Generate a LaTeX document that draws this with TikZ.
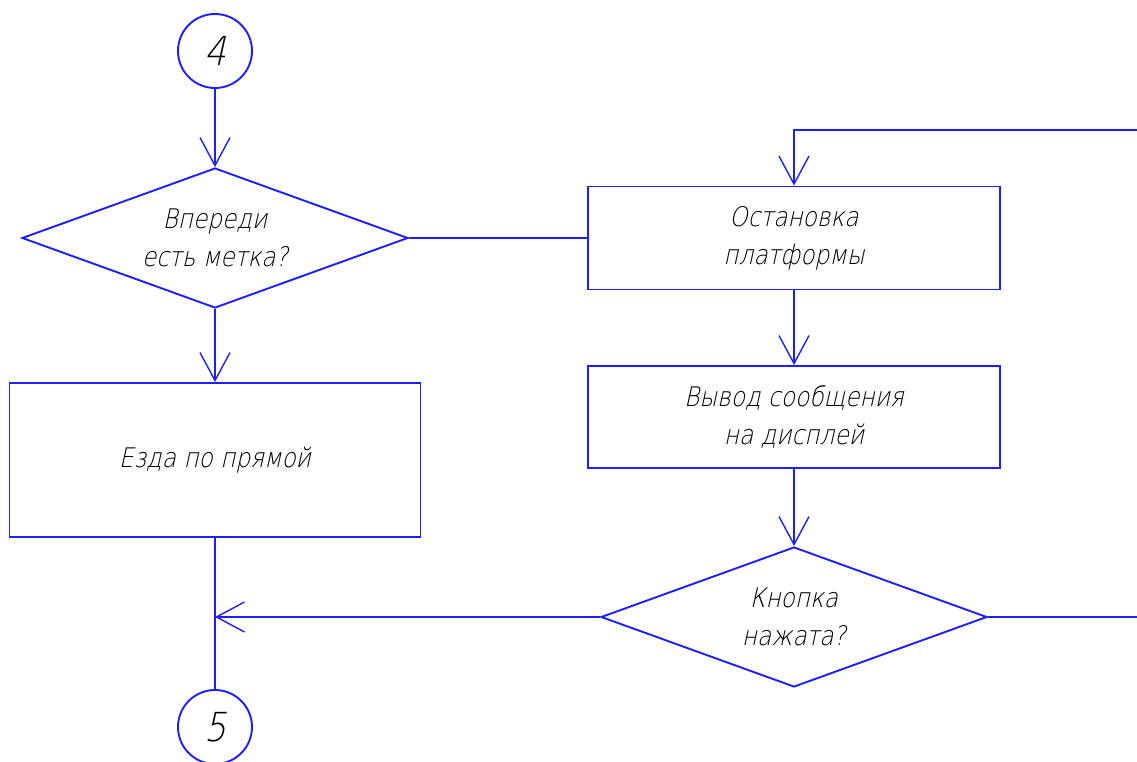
\documentclass[tikz,border=0pt]{standalone}
\usepackage{fontspec}
\usetikzlibrary{arrows.meta,shapes.geometric}
\newfontfamily\gost[FakeSlant=0.22,FakeStretch=0.86]{DejaVu Sans ExtraLight}
\definecolor{lineblue}{RGB}{30,30,250}
\tikzset{
  flow/.style={draw=lineblue, line width=1.9pt},
  arr/.style={flow, -{Straight Barb[length=28pt,width=30pt,line width=1.4pt]}},
  procbox/.style={flow, rectangle, inner sep=0pt},
  decision/.style={flow, diamond, inner sep=0pt, minimum width=386pt, minimum height=140pt},
  connector/.style={flow, circle, inner sep=0pt, minimum size=74pt, font=\gost\fontsize{40}{40}\selectfont},
  lbl/.style={font=\gost\fontsize{27}{38}\selectfont, align=center, text=black}
}
\begin{document}
\begin{tikzpicture}[x=1pt,y=-1pt]
\useasboundingbox (0,0) rectangle (1137,762);
% connectors
\node[connector] (c4) at (215,51) {4};
\node[connector] (c5) at (215,727) {5};
% decisions
\node[decision] (d1) at (215,238) {};
\node[lbl] (t1) at (d1) {Впереди\\есть метка?};
\node[decision] (d2) at (794,617) {};
\node[lbl] (t2) at (d2) {Кнопка\\нажата?};
% process boxes
\node[procbox, minimum width=412pt, minimum height=103pt] (b1) at (794,238) {};
\node[lbl] at (b1) {Остановка\\платформы};
\node[procbox, minimum width=412pt, minimum height=102pt] (b2) at (794,417) {};
\node[lbl] at (b2) {Вывод сообщения\\на дисплей};
\node[procbox, minimum width=411pt, minimum height=154pt] (b3) at (215,460) {};
\node[lbl] at (b3) {Езда по прямой};
% free ends at the right edge
\coordinate (inR) at (1137,130);
\coordinate (outR) at (1137,617);
\coordinate (join) at (215,617);
% flow lines
\draw[arr] (c4.south) -- (d1.north);
\draw[flow] (d1.east) -- (b1.west);
\draw[arr] (inR) -| (b1.north);
\draw[arr] (b1.south) -- (b2.north);
\draw[arr] (b2.south) -- (d2.north);
\draw[flow] (d2.east) -- (outR);
\draw[arr] (d2.west) -- (join);
\draw[arr] (d1.south) -- (b3.north);
\draw[flow] (b3.south) -- (c5.north);
\end{tikzpicture}
\end{document}
